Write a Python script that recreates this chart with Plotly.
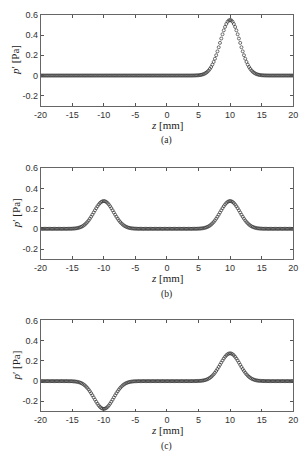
import plotly.graph_objects as go

# sampling grid z [mm]
z = [round(-20 + 0.2 * i, 1) for i in range(201)]

# pulse half-profile (offset 0, 0.2, ..., 6.0 mm from centre)
pulse_full = [0.550, 0.545, 0.532, 0.510, 0.481, 0.447, 0.408, 0.366, 0.323, 0.280,
              0.239, 0.201, 0.166, 0.135, 0.108, 0.0845, 0.0653, 0.0496, 0.0371, 0.0272,
              0.0197, 0.0140, 0.0098, 0.0067, 0.0045, 0.0030, 0.0020, 0.0013, 0.0008,
              0.0005, 0.0003]
pulse_half = [0.275, 0.2725, 0.266, 0.255, 0.2405, 0.2235, 0.204, 0.183, 0.1615, 0.140,
              0.1195, 0.1005, 0.083, 0.0675, 0.054, 0.0423, 0.0327, 0.0248, 0.0186, 0.0136,
              0.0099, 0.0070, 0.0049, 0.0034, 0.0023, 0.0015, 0.0010, 0.0007, 0.0004,
              0.0003, 0.0002]

xticks = [-20, -15, -10, -5, 0, 5, 10, 15, 20]
xtick_text = ["-20", "-15", "-10", "-5", "0", "5", "10", "15", "20"]
yticks = [-0.2, 0, 0.2, 0.4, 0.6]
ytick_text = ["-0.2", "0", "0.2", "0.4", "0.6"]
captions = ["(a)", "(b)", "(c)"]


def place(series, centre, profile, sign):
    for i, zi in enumerate(z):
        k = round(abs(zi - centre) / 0.2)
        if k < len(profile):
            series[i] = sign * profile[k]
    return series


p_a = place([0.0] * len(z), 10, pulse_full, 1)
p_b = place(place([0.0] * len(z), -10, pulse_half, 1), 10, pulse_half, 1)
p_c = place(place([0.0] * len(z), -10, pulse_half, -1), 10, pulse_half, 1)
series = [p_a, p_b, p_c]

W, H = 304, 451
panels = [(10, 102), (165, 257), (319, 411)]  # top,bottom px
title_y = [121, 276, 430]
cap_y = [137, 293, 446]
x0, x1 = 35, 298
SANS = "Liberation Sans"
SERIF = "Liberation Serif"

fig = go.Figure()
for k, (p, (top, bot)) in enumerate(zip(series, panels)):
    n = "" if k == 0 else str(k + 1)
    fig.add_trace(go.Scatter(
        x=z, y=p, mode="markers", xaxis="x" + n, yaxis="y" + n,
        marker=dict(symbol="circle-open", size=3, color="#333333", line=dict(width=0.7)),
        showlegend=False))
    common = dict(ticks="inside", ticklen=3, tickcolor="#555555", showgrid=False, zeroline=False,
                  showline=True, linecolor="#666666", linewidth=0.8, mirror="ticks",
                  tickfont=dict(family=SANS, size=9, color="#333333"), fixedrange=True)
    ax = dict(range=[-20, 20], tickvals=xticks, ticktext=xtick_text,
              domain=[x0 / W, x1 / W], anchor="y" + n, **common)
    ay = dict(range=[-0.3, 0.6], tickvals=yticks, ticktext=ytick_text,
              domain=[1 - bot / H, 1 - top / H], anchor="x" + n, **common)
    fig.update_layout(**{"xaxis" + n: ax, "yaxis" + n: ay})
    fig.add_annotation(x=(x0 + x1) / 2 / W, y=1 - title_y[k] / H, xref="paper", yref="paper",
                       xanchor="center", yanchor="middle",
                       text="<i>z</i> [mm]", showarrow=False,
                       font=dict(family=SERIF, size=11, color="#222222"))
    fig.add_annotation(x=9 / W, y=1 - (top + bot) / 2 / H, xref="paper", yref="paper",
                       xanchor="center", yanchor="middle",
                       text="<i>p</i>′ [Pa]", showarrow=False, textangle=-90,
                       font=dict(family=SERIF, size=11, color="#222222"))
    fig.add_annotation(x=(x0 + x1) / 2 / W, y=1 - cap_y[k] / H, xref="paper", yref="paper",
                       xanchor="center", yanchor="middle",
                       text=captions[k], showarrow=False,
                       font=dict(family=SERIF, size=9.5, color="#222222"))

fig.update_layout(width=W, height=H, margin=dict(l=0, r=0, t=0, b=0),
                  paper_bgcolor="white", plot_bgcolor="white")
fig.write_html("out.html")
